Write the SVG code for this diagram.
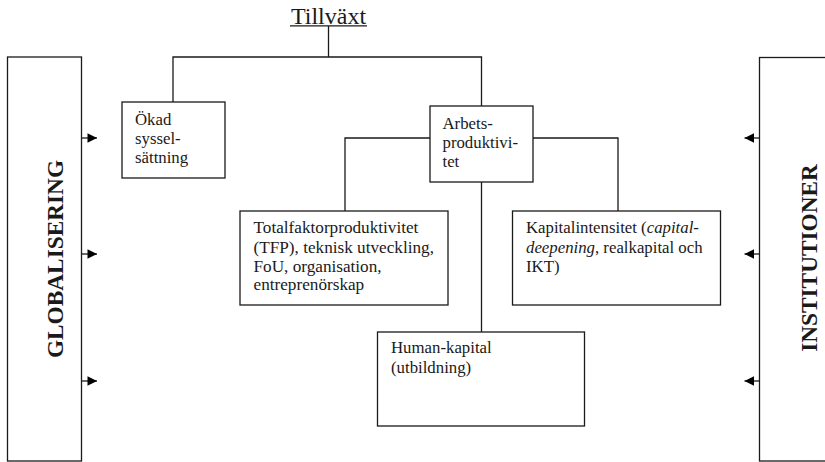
<svg xmlns="http://www.w3.org/2000/svg" width="825" height="462" viewBox="0 0 825 462">
<defs>
<style>
.box{fill:#fff;stroke:#1a1a1a;stroke-width:1.3}
.ln{fill:none;stroke:#1a1a1a;stroke-width:1.3}
.t{font-family:"Liberation Serif","Times New Roman",serif;font-size:16.8px;fill:#1a1a1a}
.tb{font-size:17.2px}
.side{font-family:"Liberation Serif","Times New Roman",serif;font-size:23.3px;font-weight:bold;fill:#1a1a1a}
.title{font-family:"Liberation Serif","Times New Roman",serif;font-size:24px;fill:#1a1a1a}
</style>
<marker id="ah" viewBox="0 0 10 10" refX="10" refY="5" markerWidth="11" markerHeight="9.5" markerUnits="userSpaceOnUse" orient="auto">
<path d="M0,0 L10,5 L0,10 Z" fill="#000"/>
</marker>
</defs>
<rect width="825" height="462" fill="#fff"/>

<g id="connectors">
<path class="ln" d="M328.5,26 V57"/>
<path class="ln" d="M173,102 V57 H481.5 V106"/>
<path class="ln" d="M430,138 H345 V211"/>
<path class="ln" d="M533,138 H618 V211"/>
<path class="ln" d="M481.5,182 V332"/>
<path class="ln" d="M81.5,138 H97" marker-end="url(#ah)"/>
<path class="ln" d="M81.5,254 H97" marker-end="url(#ah)"/>
<path class="ln" d="M81.5,381 H97" marker-end="url(#ah)"/>
<path class="ln" d="M759.5,138 H744.5" marker-end="url(#ah)"/>
<path class="ln" d="M759.5,254 H744.5" marker-end="url(#ah)"/>
<path class="ln" d="M759.5,381 H744.5" marker-end="url(#ah)"/>
</g>

<g id="tillvaxt">
<text class="title" x="328.5" y="24" text-anchor="middle">Tillväxt</text>
<line class="ln" x1="290" y1="25.8" x2="367" y2="25.8"/>
</g>

<g id="globalisering">
<rect class="box" x="7.5" y="57" width="74" height="404"/>
<text class="side" transform="translate(62.5,259) rotate(-90)" text-anchor="middle">GLOBALISERING</text>
</g>

<g id="institutioner">
<rect class="box" x="759.5" y="57.5" width="80" height="403.5"/>
<text class="side" transform="translate(817,258) rotate(-90)" text-anchor="middle">INSTITUTIONER</text>
</g>

<g id="okad">
<rect class="box" x="122" y="102" width="103" height="76"/>
<text class="t" x="135" y="124.5">Ökad</text>
<text class="t" x="135" y="144">syssel-</text>
<text class="t" x="135" y="163">sättning</text>
</g>

<g id="arbets">
<rect class="box" x="430" y="106" width="103" height="76"/>
<text class="t" x="442.5" y="128.5">Arbets-</text>
<text class="t" x="442.5" y="148">produktivi-</text>
<text class="t" x="442.5" y="167">tet</text>
</g>

<g id="tfp">
<rect class="box" x="240" y="211" width="208" height="94"/>
<text class="t tb" x="253.5" y="233">Totalfaktorproduktivitet</text>
<text class="t tb" x="253.5" y="252.5">(TFP), teknisk utveckling,</text>
<text class="t tb" x="253.5" y="271.5">FoU, organisation,</text>
<text class="t tb" x="253.5" y="290">entreprenörskap</text>
</g>

<g id="kapital">
<rect class="box" x="512.5" y="211" width="208" height="94"/>
<text class="t" x="526" y="233">Kapitalintensitet (<tspan font-style="italic">capital-</tspan></text>
<text class="t" x="526" y="252.5"><tspan font-style="italic">deepening</tspan>, realkapital och</text>
<text class="t" x="526" y="271.5">IKT)</text>
</g>

<g id="human">
<rect class="box" x="377.5" y="332" width="207" height="94"/>
<text class="t" x="391" y="353">Human-kapital</text>
<text class="t" x="391" y="372.5">(utbildning)</text>
</g>
</svg>
